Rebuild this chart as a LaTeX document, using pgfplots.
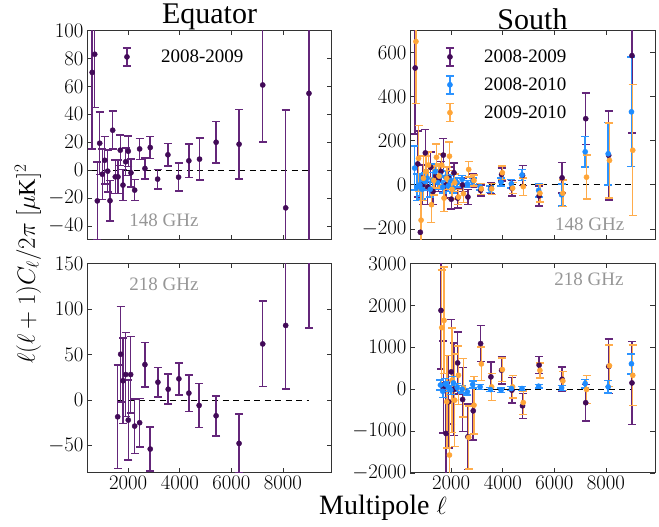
\documentclass[border=0pt]{standalone}
\usepackage{fontspec}
\setmainfont{Liberation Serif}
\usepackage{pgfplots}
\usepackage{pgfplotstable}
\pgfplotsset{compat=1.18}
\definecolor{pur}{RGB}{66,10,88}
\definecolor{purbar}{RGB}{100,38,122}
\definecolor{blu}{RGB}{30,140,255}
\definecolor{blubar}{RGB}{45,148,255}
\definecolor{org}{RGB}{255,165,55}
\definecolor{orgbar}{RGB}{255,172,75}
\definecolor{lbl}{RGB}{150,150,150}

% Equator 148 GHz
\pgfplotstableread{
x y e
600 70 55
700 83 38
800 -22 28
893 19.3 22.4
994 -2.9 18
1087 7.1 17
1203 -0.7 15
1292 -21.9 14.5
1396 28.6 13.6
1497 -4.8 12
1601 -4.8 12
1690 14.3 10.8
1795 -10.7 11
1900 6 10
2000 13.6 11
2105 -1.9 10
2248 -14.3 7.5
2441 15.2 7.5
2646 1.2 7.5
2852 16.2 8
3138 -6.4 7
3537 11 8
3951 -5 10
4350 6.7 12
4763 7.9 15
5407 20 14.8
6297 18.6 25
7214 61 41
8105 -27 70
9007 55 110
}\eqA
% Equator 218 GHz
\pgfplotstableread{
x y e
1590 -18.3 57
1706 50.4 52.6
1797 21.2 47
1900 28.1 46
2000 -21.9 44
2093 28.1 42
2248 -28.5 30
2441 -24.8 26.5
2646 39 24.5
2852 -53.7 24
3150 19.7 16
3548 12 16.5
3963 23.4 17.5
4350 7.7 20
4748 -5.8 24
5406 -17.2 22
6297 -47.5 32
7214 61.7 47
8105 82 70
9007 200 121
}\eqB
% South 148 GHz
\pgfplotstableread{
x y e
600 530 300
700 95 150
800 -215 230
893 0 90
994 145 105
1087 -10 80
1203 80 70
1292 -30 60
1396 40 55
1497 20 50
1601 60 45
1690 135 75
1795 0 60
1900 30 50
2000 -65 45
2105 55 45
2248 -60 45
2441 0 30
2646 -55 35
2852 20 30
3138 -25 25
3537 -15 25
3951 47 30
4350 -15 35
4763 43 45
5407 -50 45
6297 32 70
7214 300 117
8105 134 202
9007 586 350
}\soAp
\pgfplotstableread{
x y e
600 76 100
700 -10 60
800 0 50
893 -20 45
994 15 40
1087 30 40
1203 -20 35
1292 20 35
1396 60 35
1497 10 30
1601 40 30
1690 -10 28
1795 35 28
1900 -5 25
2000 20 25
2105 -15 22
2248 10 20
2441 25 18
2646 5 15
2852 15 15
3138 -8 15
3537 -20 15
3951 12 18
4350 5 20
4763 45 25
5407 -25 30
6297 -45 50
7214 150 70
8105 141 142
9007 331 248
}\soAb
\pgfplotstableread{
x y e
600 650 280
700 120 150
800 -160 160
893 30 100
994 60 70
1087 90 60
1203 -90 80
1292 20 65
1396 125 60
1497 40 55
1601 90 50
1690 -60 60
1795 30 50
1900 130 65
2000 -20 45
2105 10 40
2248 -55 35
2441 -40 40
2646 70 35
2852 20 25
3138 -18 25
3537 -18 25
3951 55 30
4350 -15 25
4763 -8 40
5407 -38 40
6297 -38 60
7214 35 100
8105 111 170
9007 157 297
}\soAo
% South 218 GHz
\pgfplotstableread{
x y e
1601 1880 1400
1690 50 1100
1795 -1056 1200
1900 -300 1100
2000 413 1245
2105 0 1100
2248 627 740
2441 -246 760
2646 -1135 780
2852 -516 700
3138 1088 430
3537 294 350
3951 452 330
4350 -24 300
4763 -397 300
5407 575 205
6297 236 290
7214 -323 440
8105 543 650
9007 150 990
}\soBp
\pgfplotstableread{
x y e
1601 100 120
1690 -50 150
1795 120 130
1900 60 120
2000 -20 110
2105 150 150
2248 40 100
2441 0 90
2646 -63 80
2852 111 80
3138 56 60
3537 -8 50
3951 -24 50
4350 16 45
4763 16 45
5407 71 40
6297 31 60
7214 134 100
8105 55 150
9007 606 240
}\soBb
\pgfplotstableread{
x y e
1601 1469 1380
1690 1643 1270
1795 -300 1100
1900 -1572 1300
2000 214 1250
2105 -262 1100
2248 333 700
2441 32 700
2646 -1150 750
2852 -381 690
3138 603 400
3537 56 320
3951 468 280
4350 56 270
4763 -318 280
5407 449 180
6297 197 230
7214 -8 330
8105 559 490
9007 331 720
}\soBo

\pgfplotsset{
  panel/.style={scale only axis, width=245pt, height=209.5pt, anchor=south west,
    xmin=400, xmax=9900, xtick={2000,4000,6000,8000},
    tick align=inside, major tick length=5pt,
    axis line style={line width=1pt, black!80},
    every tick/.style={black!80, line width=0.9pt},
    ticklabel style={font=\fontsize{20}{24}\selectfont},
    /pgf/number format/1000 sep={}, scaled ticks=false,
    title style={font=\fontsize{30}{36}\selectfont, yshift=-9pt},
    legend style={draw=none, fill=none, at={(rel axis cs:0,1)}, anchor=north west,
      xshift=32pt, yshift=-13pt, font=\fontsize{19}{22}\selectfont,
      row sep=5.5pt, cells={anchor=west}, nodes={inner sep=1pt}},
  },
  ser/.style n args={2}{forget plot, only marks, mark=*, mark size=2.6pt, color=#1, mark options={fill=#1, draw=#1},
    error bars/.cd, y dir=both, y explicit,
    error bar style={#2, line width=1.5pt},
    error mark options={#2, rotate=90, mark size=4pt, line width=1.5pt}, /pgfplots/.cd},
  zline/.style={black, line width=1pt, dash pattern=on 6pt off 4.5pt, forget plot},
}
\tikzset{glabel/.style={lbl, font=\fontsize{19}{22}\selectfont}}
\newcommand\limg[2]{\addlegendimage{legend image code/.code={%
    \draw[#2, line width=1.5pt] (0pt,-9pt)--(0pt,9pt) (-4pt,-9pt)--(4pt,-9pt) (-4pt,9pt)--(4pt,9pt);
    \fill[#1] (0pt,0pt) circle (2.6pt);
    \path (-4pt,-11pt) (33pt,11pt);}}}

\begin{document}
\begin{tikzpicture}
\path[use as bounding box] (0,0) rectangle (659pt,527pt);

% Top left: Equator 148
\begin{axis}[panel, at={(87pt,287pt)}, ymin=-50, ymax=100, ytick={-40,-20,0,20,40,60,80,100},
  xticklabels={}, title={Equator}]
\addplot[zline] coordinates {(600,0) (9007,0)};
\addplot[ser={pur}{purbar}] table[x=x,y=y,y error=e] {\eqA};
\limg{pur}{purbar}
\addlegendentry{2008-2009}
\node[glabel] at (axis cs:3382,-36) {148 GHz};
\end{axis}

% Top right: South 148
\begin{axis}[panel, at={(410pt,287pt)}, ymin=-250, ymax=700, ytick={-200,0,200,400,600},
  xticklabels={}, title={South}]
\addplot[zline] coordinates {(600,0) (9007,0)};
\addplot[ser={pur}{purbar}] table[x=x,y=y,y error=e] {\soAp};
\addplot[ser={blu}{blubar}] table[x expr=\thisrow{x}-20,y=y,y error=e] {\soAb};
\addplot[ser={org}{orgbar}] table[x expr=\thisrow{x}+30,y=y,y error=e] {\soAo};
\limg{pur}{purbar}
\addlegendentry{2008-2009}
\limg{blu}{blubar}
\addlegendentry{2008-2010}
\limg{org}{orgbar}
\addlegendentry{2009-2010}
\node[glabel] at (axis cs:7369,-177) {148 GHz};
\end{axis}

% Bottom left: Equator 218
\begin{axis}[panel, at={(87pt,54pt)}, ymin=-80, ymax=150, ytick={-50,0,50,100,150}]
\addplot[zline] coordinates {(1590,0) (9007,0)};
\addplot[ser={pur}{purbar}] table[x=x,y=y,y error=e] {\eqB};
\node[glabel] at (axis cs:3382,127) {218 GHz};
\end{axis}

% Bottom right: South 218
\begin{axis}[panel, at={(410pt,54pt)}, ymin=-2000, ymax=3000, ytick={-2000,-1000,0,1000,2000,3000}]
\addplot[zline] coordinates {(1590,0) (9007,0)};
\addplot[ser={pur}{purbar}] table[x=x,y=y,y error=e] {\soBp};
\addplot[ser={org}{orgbar}] table[x expr=\thisrow{x}+30,y=y,y error=e] {\soBo};
\addplot[ser={blu}{blubar}] table[x expr=\thisrow{x}-20,y=y,y error=e] {\soBb};
\node[glabel] at (axis cs:7343,2617) {218 GHz};
\end{axis}

\node[rotate=90, font=\fontsize{24}{29}\selectfont] at (28pt,263pt) {$\ell(\ell+1)C_\ell/2\pi\ [\mu\mathrm{K}]^2$};
\node[font=\fontsize{28}{34}\selectfont] at (383pt,19pt) {Multipole $\ell$};
\end{tikzpicture}
\end{document}
